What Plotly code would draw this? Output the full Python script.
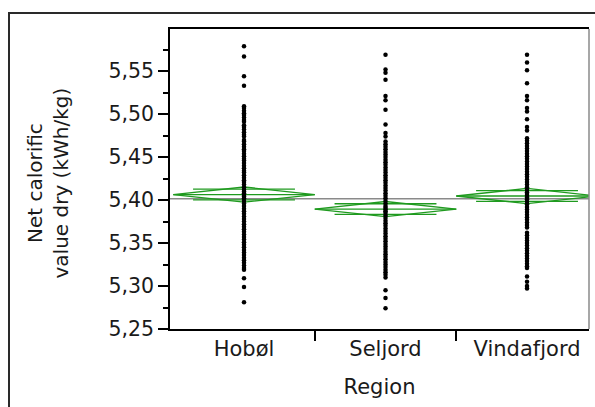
import math
import plotly.graph_objects as go

categories = ["Hobøl", "Seljord", "Vindafjord"]

hobol = [5.579, 5.567, 5.544, 5.533,
         5.509, 5.507, 5.504, 5.501, 5.499, 5.496, 5.493, 5.491, 5.487, 5.485,
         5.482, 5.479, 5.476, 5.474, 5.470, 5.468, 5.465, 5.462, 5.459, 5.457,
         5.454, 5.451, 5.448, 5.446, 5.443, 5.440, 5.437, 5.434, 5.432, 5.429,
         5.426, 5.423, 5.421, 5.418, 5.415, 5.412, 5.410, 5.408, 5.406, 5.404,
         5.402, 5.399, 5.396, 5.393, 5.390, 5.387, 5.384, 5.381, 5.378, 5.375,
         5.372, 5.369, 5.366, 5.363, 5.360, 5.357, 5.354, 5.351, 5.348, 5.345,
         5.342, 5.339, 5.336, 5.333, 5.330, 5.327, 5.324, 5.321, 5.319,
         5.309, 5.299, 5.281]
seljord = [5.569, 5.552, 5.548, 5.540, 5.521, 5.516, 5.505, 5.488, 5.478, 5.474,
           5.468, 5.465, 5.462, 5.459, 5.456, 5.453, 5.450, 5.447, 5.444, 5.441,
           5.438, 5.435, 5.432, 5.429, 5.426, 5.423, 5.420, 5.417, 5.414, 5.411,
           5.408, 5.405, 5.402, 5.399, 5.396, 5.393, 5.391, 5.389, 5.387, 5.385,
           5.382, 5.379, 5.376, 5.373, 5.370, 5.367, 5.364, 5.361, 5.358, 5.355,
           5.352, 5.349, 5.346, 5.343, 5.340, 5.337, 5.334, 5.331, 5.328, 5.325,
           5.322, 5.319, 5.316, 5.313, 5.310,
           5.295, 5.286, 5.274]
vindafjord = [5.569, 5.560, 5.551, 5.536, 5.521, 5.516, 5.507, 5.503, 5.494,
              5.485, 5.481,
              5.472, 5.469, 5.466, 5.463, 5.460, 5.457, 5.454, 5.451, 5.448,
              5.445, 5.442, 5.439, 5.436, 5.433, 5.430, 5.427, 5.424, 5.421,
              5.418, 5.415, 5.412, 5.409, 5.407, 5.405, 5.403, 5.401, 5.398,
              5.395, 5.392, 5.389, 5.386, 5.383, 5.380, 5.377, 5.374, 5.371,
              5.368, 5.362, 5.359, 5.356, 5.353, 5.350, 5.347, 5.344, 5.341,
              5.338, 5.335, 5.332, 5.329, 5.326, 5.323, 5.321,
              5.311, 5.305, 5.300, 5.297]

group_values = [hobol, seljord, vindafjord]
group_means = [5.4064, 5.3895, 5.4047]
group_ci = [0.0088, 0.0088, 0.0088]
grand_mean = 5.4015

y_ticks = [5.25, 5.30, 5.35, 5.40, 5.45, 5.50, 5.55]

green = "#1f9a1f"
fig = go.Figure()

# grand mean line
fig.add_trace(go.Scatter(x=[-0.6, 2.6], y=[grand_mean, grand_mean], mode="lines",
                         line=dict(color="#8a8a8a", width=1.5), hoverinfo="skip"))

for i, vals in enumerate(group_values):
    m = group_means[i]
    c = group_ci[i]
    o = c / math.sqrt(2)
    # diamond
    fig.add_trace(go.Scatter(
        x=[i - 0.5, i, i + 0.5, i, i - 0.5],
        y=[m, m + c, m, m - c, m],
        mode="lines", line=dict(color=green, width=1.3), hoverinfo="skip"))
    # mean line
    fig.add_trace(go.Scatter(x=[i - 0.5, i + 0.5], y=[m, m], mode="lines",
                             line=dict(color=green, width=1.3), hoverinfo="skip"))
    # overlap marks
    for s in (1, -1):
        fig.add_trace(go.Scatter(x=[i - 0.36, i + 0.36], y=[m + s * o, m + s * o],
                                 mode="lines", line=dict(color=green, width=1.3),
                                 hoverinfo="skip"))
    # points
    fig.add_trace(go.Scatter(x=[i] * len(vals), y=vals, mode="markers",
                             marker=dict(color="black", size=4.5, line=dict(width=0)),
                             hoverinfo="y"))

font_family = "DejaVu Sans"
fig.update_layout(
    width=595, height=407,
    margin=dict(l=170, r=6, t=29, b=78),
    paper_bgcolor="white", plot_bgcolor="white",
    showlegend=False,
    separators=",.",
    font=dict(family=font_family, size=21, color="#1a1a1a"),
    xaxis=dict(
        range=[-0.523, 2.438],
        tickmode="array", tickvals=[0, 1, 2], ticktext=categories,
        ticks="", showgrid=False, zeroline=False,
        showline=True, linecolor="black", linewidth=1.5, mirror=True,
        minor=dict(tickmode="array", tickvals=[0.5, 1.5], ticks="outside",
                   ticklen=10, tickcolor="black", tickwidth=1.5),
        tickfont=dict(size=21),
        ticklabelstandoff=0,
        title=dict(text="Region", font=dict(size=21), standoff=19),
    ),
    yaxis=dict(
        range=[5.25, 5.599],
        tickmode="array", tickvals=y_ticks, tickformat=".2f",
        ticks="outside", ticklen=10, tickwidth=1.5, tickcolor="black",
        showgrid=False, zeroline=False,
        showline=True, linecolor="black", linewidth=1.5,
        minor=dict(dtick=0.025, ticks="outside", ticklen=5, tickwidth=1.5,
                   tickcolor="black"),
        tickfont=dict(size=20.5),
    ),
    shapes=[
        dict(type="line", xref="paper", yref="paper", x0=1, x1=1, y0=0, y1=1,
             line=dict(color="#8a8a8a", width=1.5)),
        dict(type="rect", xref="paper", yref="paper",
             x0=(9 - 170) / 419, x1=(610 - 170) / 419,
             y0=(329 - 430) / 300, y1=(329 - 13) / 300,
             line=dict(color="#2a2a2a", width=2), fillcolor="rgba(0,0,0,0)",
             layer="below"),
    ],
    annotations=[
        dict(text="Net calorific<br>value dry (kWh/kg)", textangle=-90,
             xref="paper", yref="paper",
             x=(47.5 - 170) / 419, y=(329 - 183) / 300,
             xanchor="center", yanchor="middle", showarrow=False,
             font=dict(size=20, family=font_family, color="#1a1a1a")),
    ],
)

fig.write_html("out.html")
